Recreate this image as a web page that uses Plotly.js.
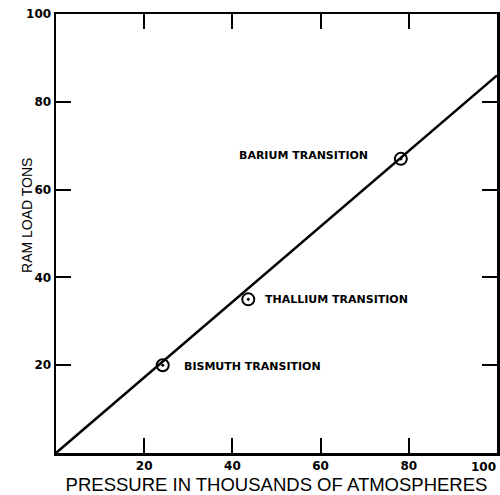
<!DOCTYPE html>
<html>
<head>
<meta charset="utf-8">
<script src="https://cdn.plot.ly/plotly-3.0.1.min.js"></script>
<style>html,body{margin:0;padding:0;background:#fff;}#chart{width:500px;height:495px;}</style>
</head>
<body>
<div id="chart"></div>
<script>
// Calibration line: pressure (thousands of atm) vs ram load (tons)
const linePressure = [0, 100];
const lineLoad = [0, 86];

// Transition points
const transitionNames = ["BISMUTH TRANSITION", "THALLIUM TRANSITION", "BARIUM TRANSITION"];
const transitionPressure = [24.2, 43.6, 78.2];
const transitionLoad = [20, 35, 67];

const tickVals = [20, 40, 60, 80, 100];
const tickText = ["20", "40", "60", "80", "100"];

const xTitle = "PRESSURE IN THOUSANDS OF ATMOSPHERES";
const yTitle = "RAM LOAD TONS";

const traces = [
  {
    x: linePressure, y: lineLoad, mode: "lines", type: "scatter",
    line: {color: "#000", width: 2.5}, hoverinfo: "skip"
  },
  {
    x: transitionPressure, y: transitionLoad, mode: "markers", type: "scatter",
    marker: {symbol: "circle-open-dot", size: 12, color: "#000", line: {color: "#000", width: 2}}
  }
];

const tickFont = {family: "DejaVu Sans", size: 12, color: "#000", weight: "bold"};

const labelOffsets = [
  {xanchor: "left", xshift: 19, yshift: -1},
  {xanchor: "left", xshift: 15, yshift: 0},
  {xanchor: "right", xshift: -31, yshift: 3}
];
const annotations = transitionNames.map((t, i) => ({
  x: transitionPressure[i], y: transitionLoad[i], xref: "x", yref: "y",
  text: t, showarrow: false, xanchor: labelOffsets[i].xanchor, xshift: labelOffsets[i].xshift,
  yanchor: "middle", yshift: labelOffsets[i].yshift,
  font: {family: "DejaVu Sans", size: 11, color: "#000", weight: "bold"}
}));

// last x tick label sits inside the right edge in the original
const lastIdx = tickVals.length - 1;
annotations.push({
  x: tickVals[lastIdx], y: 0, xref: "x", yref: "paper",
  text: tickText[lastIdx], showarrow: false, xanchor: "right", yanchor: "middle",
  xshift: 1, yshift: -14, font: tickFont
});

// y axis title (placed slightly above centre as in the original)
annotations.push({
  x: 0, y: 0.54, xref: "paper", yref: "paper", text: yTitle, showarrow: false,
  textangle: -90, xanchor: "center", yanchor: "middle", xshift: -29,
  font: {family: "Liberation Sans", size: 14, color: "#000"}
});

const axisCommon = {
  showgrid: false, zeroline: false, showline: true, linecolor: "#000", linewidth: 2.5,
  mirror: "ticks", ticks: "inside", ticklen: 15, tickwidth: 2, tickcolor: "#000",
  tickfont: tickFont
};

const layout = {
  width: 500, height: 495,
  margin: {l: 56, r: 3, t: 14, b: 42},
  paper_bgcolor: "#fff", plot_bgcolor: "#fff",
  showlegend: false,
  xaxis: Object.assign({}, axisCommon, {
    range: [0, 100],
    tickvals: tickVals.slice(0, lastIdx), ticktext: tickText.slice(0, lastIdx),
    title: {text: xTitle, font: {family: "Liberation Sans", size: 18.5, color: "#000"}, standoff: 10}
  }),
  yaxis: Object.assign({}, axisCommon, {
    range: [0, 100],
    tickvals: tickVals, ticktext: tickText
  }),
  annotations: annotations
};

Plotly.newPlot("chart", traces, layout, {displayModeBar: false, staticPlot: true});
</script>
</body>
</html>
